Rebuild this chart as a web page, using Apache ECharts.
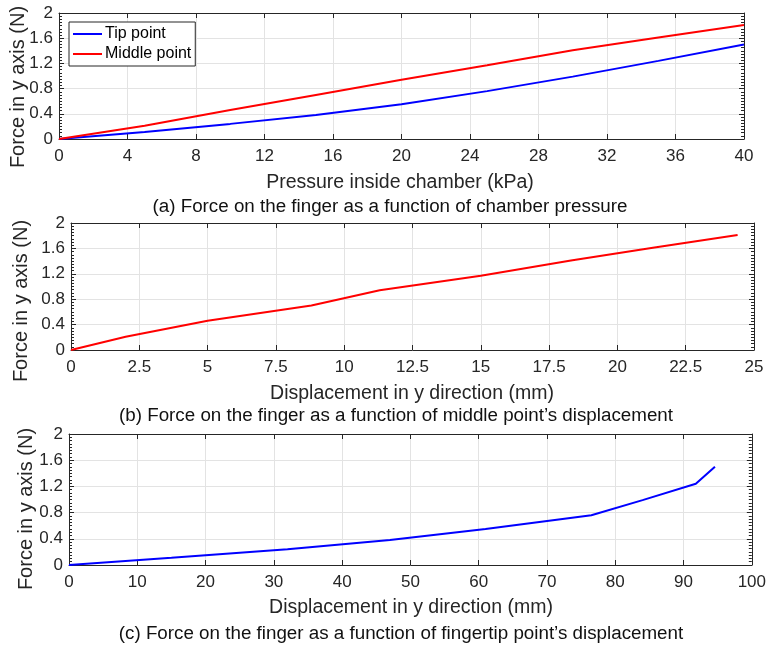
<!DOCTYPE html>
<html>
<head>
<meta charset="utf-8">
<script src="https://cdn.jsdelivr.net/npm/echarts@6/dist/echarts.min.js"></script>
<style>
html,body{margin:0;padding:0;background:#fff;}
#chart{width:769px;height:648px;}
</style>
</head>
<body>
<div id="chart"></div>
<script>
// ---- data ----
const pressure = [0, 5, 10, 15, 20, 25, 30, 35, 40];               // kPa
const tipForce = [0, 0.11, 0.24, 0.38, 0.55, 0.76, 0.99, 1.24, 1.50]; // N
const middleForce = [0, 0.21, 0.46, 0.70, 0.94, 1.17, 1.41, 1.61, 1.81]; // N
const middleDisp = [0, 2.0, 5.0, 8.8, 11.3, 15.0, 18.3, 21.3, 24.4]; // mm
const tipDisp = [0, 15, 32, 47, 61, 76.5, 84, 91.8, 94.6];           // mm

const seriesNames = ['Tip point', 'Middle point'];
const yLabel = 'Force in y axis (N)';
const xLabels = ['Pressure inside chamber (kPa)', 'Displacement in y direction (mm)', 'Displacement in y direction (mm)'];
const captions = [
  '(a) Force on the finger as a function of chamber pressure',
  '(b) Force on the finger as a function of middle point\u2019s displacement',
  '(c) Force on the finger as a function of fingertip point\u2019s displacement'
];
const xRanges = [[0, 40, 4], [0, 25, 2.5], [0, 100, 10]];
const yRange = [0, 2, 0.4];

const pair = (xs, ys) => xs.map((x, i) => [x, ys[i]]);

// ---- layout ----
const grids = [
  {left: 59, top: 13, width: 685, height: 126},
  {left: 71, top: 223, width: 683, height: 127},
  {left: 69, top: 434, width: 683, height: 131}
];
const AX = '#262626';
const FONT = 'Liberation Sans, Arial, sans-serif';

const xAxes = [], yAxes = [];
grids.forEach((g, i) => {
  const [mn, mx, iv] = xRanges[i];
  xAxes.push({
    type: 'value', gridIndex: i, position: 'bottom', min: mn, max: mx, interval: iv,
    axisLine: {show: true, onZero: false, lineStyle: {color: AX, width: 1}},
    axisTick: {show: true, inside: true, length: 5, lineStyle: {color: AX}},
    axisLabel: {color: AX, fontSize: 17, fontFamily: FONT, margin: 9},
    splitLine: {show: true, lineStyle: {color: '#e3e3e3', width: 1}}
  });
  xAxes.push({
    type: 'value', gridIndex: i, position: 'top', min: mn, max: mx, interval: iv,
    axisLine: {show: true, onZero: false, lineStyle: {color: AX, width: 1}},
    axisTick: {show: true, inside: true, length: 5, lineStyle: {color: AX}},
    axisLabel: {show: false}, splitLine: {show: false}
  });
  yAxes.push({
    type: 'value', gridIndex: i, position: 'left', min: yRange[0], max: yRange[1], interval: yRange[2],
    axisLine: {show: true, onZero: false, lineStyle: {color: AX, width: 1}},
    axisTick: {show: true, inside: true, length: 5, lineStyle: {color: AX}},
    minorTick: {show: true, splitNumber: 8, length: 3, lineStyle: {color: AX}},
    axisLabel: {color: AX, fontSize: 17, fontFamily: FONT, margin: 6, inside: false},
    splitLine: {show: true, lineStyle: {color: '#e3e3e3', width: 1}}
  });
  yAxes.push({
    type: 'value', gridIndex: i, position: 'right', min: yRange[0], max: yRange[1], interval: yRange[2],
    axisLine: {show: true, onZero: false, lineStyle: {color: AX, width: 1}},
    axisTick: {show: true, inside: true, length: 5, lineStyle: {color: AX}},
    minorTick: {show: true, splitNumber: 8, length: 3, lineStyle: {color: AX}},
    axisLabel: {show: false}, splitLine: {show: false}
  });
});

const lineSeries = (name, data, color, idx) => ({
  name: name, type: 'line', data: data, xAxisIndex: idx * 2, yAxisIndex: idx * 2,
  symbol: 'none', showSymbol: false, smooth: false, animation: false,
  lineStyle: {color: color, width: 2}, itemStyle: {color: color}
});

const series = [
  lineSeries(seriesNames[0], pair(pressure, tipForce), '#0000ff', 0),
  lineSeries(seriesNames[1], pair(pressure, middleForce), '#ff0000', 0),
  lineSeries('Middle point (b)', pair(middleDisp, middleForce), '#ff0000', 1),
  lineSeries('Tip point (c)', pair(tipDisp, tipForce), '#0000ff', 2)
];

const txt = (x, y, text, rot, size) => ({
  type: 'text', x: x, y: y, rotation: rot || 0, silent: true,
  style: {text: text, fill: AX, font: (size || 19.5) + 'px ' + FONT, textAlign: 'center', textVerticalAlign: 'middle'}
});
const capt = (x, y, text) => ({
  type: 'text', x: x, y: y, silent: true,
  style: {text: text, fill: '#111', font: '18.8px ' + FONT, textAlign: 'center', textVerticalAlign: 'middle'}
});

const graphics = [
  txt(18, 87, yLabel, Math.PI / 2, 20),
  txt(400, 183, xLabels[0]),
  capt(390, 207, captions[0]),
  txt(21, 301, yLabel, Math.PI / 2, 20),
  txt(412, 394, xLabels[1]),
  capt(396, 416, captions[1]),
  txt(26, 509, yLabel, Math.PI / 2, 20),
  txt(411, 608, xLabels[2]),
  capt(401, 634, captions[2])
];

const chart = echarts.init(document.getElementById('chart'), null, {renderer: 'canvas'});
chart.setOption({
  animation: false,
  backgroundColor: '#fff',
  grid: grids.map(g => Object.assign({containLabel: false}, g)),
  xAxis: xAxes,
  yAxis: yAxes,
  legend: {
    data: seriesNames, orient: 'vertical', left: 69, top: 22,
    icon: 'rect',
    padding: [4, 4, 4, 4], itemGap: 4, itemWidth: 29, itemHeight: 2,
    backgroundColor: '#fff', borderColor: AX, borderWidth: 1, borderRadius: 0,
    textStyle: {color: '#000', fontSize: 16, lineHeight: 16, fontFamily: FONT, padding: [0, 0, 0, -2]}
  },
  series: series,
  graphic: graphics
});
</script>
</body>
</html>
